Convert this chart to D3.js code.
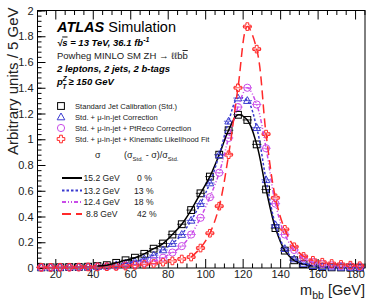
<!DOCTYPE html>
<html>
<head>
<meta charset="utf-8">
<script src="https://cdn.jsdelivr.net/npm/d3@7"></script>
<style>
  body { margin: 0; background: #fff; }
  svg { display: block; font-family: "Liberation Sans", Arial, sans-serif; }
  .axis text { font-size: 11px; fill: #222; }
  .axis path { display: none; }
  .axis line { stroke: #000; }
</style>
</head>
<body>
<svg id="chart"></svg>
<script>
// bin centres of m_bb [GeV], 5 GeV bins
const binCenters = [12.5, 17.5, 22.5, 27.5, 32.5, 37.5, 42.5, 47.5, 52.5, 57.5, 62.5, 67.5,
  72.5, 77.5, 82.5, 87.5, 92.5, 97.5, 102.5, 107.5, 112.5, 117.5, 122.5, 127.5, 132.5,
  137.5, 142.5, 147.5, 152.5, 157.5, 162.5, 167.5, 172.5, 177.5, 182.5];

const stdValues = [0.005, 0.005, 0.006, 0.007, 0.008, 0.01, 0.015, 0.022, 0.04, 0.06, 0.08, 0.11,
  0.15, 0.19, 0.26, 0.34, 0.45, 0.58, 0.71, 0.88, 1.07, 1.19, 1.15, 0.96, 0.61,
  0.31, 0.135, 0.06, 0.03, 0.015, 0.008, 0.005, 0.004, 0.003, 0.003];

const muValues = [0.004, 0.004, 0.005, 0.006, 0.007, 0.008, 0.011, 0.015, 0.024, 0.035, 0.05, 0.07,
  0.1, 0.14, 0.19, 0.26, 0.37, 0.5, 0.66, 0.88, 1.14, 1.32, 1.3, 1.09, 0.685,
  0.335, 0.15, 0.07, 0.035, 0.018, 0.01, 0.007, 0.005, 0.004, 0.004];

const ptRecoValues = [0.004, 0.004, 0.005, 0.005, 0.006, 0.007, 0.008, 0.01, 0.013, 0.02, 0.028, 0.04,
  0.055, 0.08, 0.12, 0.17, 0.26, 0.39, 0.55, 0.74, 1.01, 1.25, 1.4, 1.27, 0.93,
  0.5, 0.26, 0.14, 0.075, 0.045, 0.03, 0.02, 0.015, 0.012, 0.01];

const kinFitValues = [0.005, 0.005, 0.006, 0.006, 0.007, 0.008, 0.009, 0.01, 0.012, 0.015, 0.02, 0.028,
  0.035, 0.045, 0.055, 0.07, 0.085, 0.155, 0.27, 0.48, 0.88, 1.4, 1.875, 1.7, 1.04,
  0.545, 0.3, 0.165, 0.09, 0.06, 0.045, 0.035, 0.028, 0.022, 0.018];

const seriesNames = ["Standard Jet Calibration (Std.)", "Std. + \u03bc-in-jet Correction",
  "Std. + \u03bc-in-jet + PtReco Correction", "Std. + \u03bc-in-jet + Kinematic Likelihood Fit"];
const seriesColors = ["#000000", "#3a3ad0", "#c94be8", "#ff2a2a"];
const seriesMarkers = ["square", "triangle", "circle", "cross"];
const seriesDash = [null, "2.5,2", "4,2,1,2,1,2", "9,5"];
// fit ranges of the curves [GeV]
const fitLow = [42, 55, 70, 88];
const fitHigh = [160, 160, 165, 158];
const sigmaLabels = ["15.2 GeV", "13.2 GeV", "12.4 GeV", "8.8 GeV"];
const improvementLabels = ["0 %", "13 %", "18 %", "42 %"];

const xMajorTicks = [20, 40, 60, 80, 100, 120, 140, 160, 180];
const yMajorTicks = [0, 0.2, 0.4, 0.6, 0.8, 1, 1.2, 1.4, 1.6, 1.8, 2];

const W = 370, H = 301;
const margin = {top: 10.5, right: 5, bottom: 33, left: 37.5};

const svg = d3.select("#chart").attr("width", W).attr("height", H);

const x = d3.scaleLinear().domain([10.5, 185.3]).range([margin.left, W - margin.right]);
const y = d3.scaleLinear().domain([0, 2]).range([H - margin.bottom, margin.top]);

const allSeries = [stdValues, muValues, ptRecoValues, kinFitValues].map((vals, i) => ({
  name: seriesNames[i], color: seriesColors[i], marker: seriesMarkers[i], dash: seriesDash[i],
  lo: fitLow[i], hi: fitHigh[i],
  points: binCenters.map((c, j) => ({x: c, y: vals[j]}))
}));

// ---- axes (ticks pointing inwards) ----
const xMinor = [];
for (let v = 15; v <= 185; v += 5) if (v % 20 !== 0) xMinor.push(v);
const yMinor = [];
for (let v = 0; v <= 2.0001; v += 0.04) yMinor.push(+v.toFixed(2));

svg.append("g").attr("class", "axis")
  .attr("transform", `translate(0,${y(0)})`)
  .call(d3.axisBottom(x).tickValues(xMajorTicks).tickSize(-9).tickPadding(2).tickFormat(d3.format("d")));
svg.append("g").attr("class", "axis")
  .attr("transform", `translate(0,${y(0)})`)
  .call(d3.axisBottom(x).tickValues(xMinor).tickSize(-4.5).tickFormat(""));
svg.append("g").attr("class", "axis")
  .attr("transform", `translate(0,${y(2)})`)
  .call(d3.axisTop(x).tickValues(xMajorTicks).tickSize(-9).tickFormat(""));
svg.append("g").attr("class", "axis")
  .attr("transform", `translate(0,${y(2)})`)
  .call(d3.axisTop(x).tickValues(xMinor).tickSize(-4.5).tickFormat(""));

svg.append("g").attr("class", "axis")
  .attr("transform", `translate(${x.range()[0]},0)`)
  .call(d3.axisLeft(y).tickValues(yMajorTicks).tickSize(-8).tickPadding(4).tickFormat(d3.format("~g")));
svg.append("g").attr("class", "axis")
  .attr("transform", `translate(${x.range()[0]},0)`)
  .call(d3.axisLeft(y).tickValues(yMinor).tickSize(-4).tickFormat(""));

// frame
svg.append("rect")
  .attr("x", x.range()[0]).attr("y", y(2))
  .attr("width", x.range()[1] - x.range()[0]).attr("height", y(0) - y(2))
  .attr("fill", "none").attr("stroke", "#000").attr("stroke-width", 1);

// ---- marker shapes ----
function drawMarker(g, type, color, cx, cy) {
  const s = 3.4;
  if (type === "square") {
    g.append("rect").attr("x", cx - s).attr("y", cy - s).attr("width", 2 * s).attr("height", 2 * s)
      .attr("fill", "none").attr("stroke", color).attr("stroke-width", 1);
  } else if (type === "triangle") {
    g.append("path").attr("d", `M${cx},${cy - 4}L${cx + 3.8},${cy + 2.8}L${cx - 3.8},${cy + 2.8}Z`)
      .attr("fill", "none").attr("stroke", color).attr("stroke-width", 1);
  } else if (type === "circle") {
    g.append("circle").attr("cx", cx).attr("cy", cy).attr("r", 3.6)
      .attr("fill", "none").attr("stroke", color).attr("stroke-width", 1);
  } else {
    const a = 1.4, b = 3.8;
    g.append("path").attr("d",
      `M${cx - a},${cy - b}H${cx + a}V${cy - a}H${cx + b}V${cy + a}H${cx + a}V${cy + b}H${cx - a}V${cy + a}H${cx - b}V${cy - a}H${cx - a}Z`)
      .attr("fill", "none").attr("stroke", color).attr("stroke-width", 1);
  }
}

const plot = svg.append("g");

// markers with horizontal bin-width error bars
allSeries.forEach(s => {
  const g = plot.append("g");
  s.points.forEach(p => {
    g.append("line")
      .attr("x1", x(p.x - 2.5)).attr("x2", x(p.x + 2.5))
      .attr("y1", y(p.y)).attr("y2", y(p.y))
      .attr("stroke", s.color).attr("stroke-width", 0.8);
    drawMarker(g, s.marker, s.color, x(p.x), y(p.y));
  });
});

// fit curves
const line = d3.line().x(d => x(d.x)).y(d => y(d.y)).curve(d3.curveCatmullRom.alpha(0.5));
allSeries.forEach(s => {
  plot.append("path")
    .datum(s.points.filter(p => p.x >= s.lo && p.x <= s.hi))
    .attr("d", line)
    .attr("fill", "none")
    .attr("stroke", s.color)
    .attr("stroke-width", 1.5)
    .attr("stroke-dasharray", s.dash);
});

// ---- axis titles ----
svg.append("text")
  .attr("transform", `translate(18,${y(2) - 3}) rotate(-90)`)
  .attr("text-anchor", "end")
  .attr("font-size", 15)
  .attr("fill", "#222")
  .text("Arbitrary units / 5 GeV");

const xt = svg.append("text")
  .attr("x", W - 5).attr("y", 295)
  .attr("text-anchor", "end")
  .attr("font-size", 14.5)
  .attr("fill", "#222");
xt.append("tspan").text("m");
xt.append("tspan").attr("dy", 4).attr("font-size", 10.5).text("bb");
xt.append("tspan").attr("dy", -4).text(" [GeV]");

// ---- labels ----
const tx = 57;
const atlas = svg.append("text").attr("x", tx).attr("y", 32).attr("font-size", 14.5).attr("fill", "#000");
atlas.append("tspan").attr("font-weight", "bold").attr("font-style", "italic").text("ATLAS");
atlas.append("tspan").text(" Simulation");

const sq = svg.append("text").attr("x", tx).attr("y", 45.5).attr("font-size", 9.5)
  .attr("font-weight", "bold").attr("font-style", "italic");
sq.append("tspan").text("\u221a");
sq.append("tspan").attr("text-decoration", "overline").text("s");
sq.append("tspan").text(" = 13 TeV, 36.1 fb");
sq.append("tspan").attr("dy", -4).attr("font-size", 7).text("-1");

const pw = svg.append("text").attr("x", tx).attr("y", 59).attr("font-size", 9.5).attr("fill", "#222");
pw.append("tspan").text("Powheg MINLO SM ZH \u2192 \u2113\u2113b");
pw.append("tspan").attr("text-decoration", "overline").text("b");

svg.append("text").attr("x", tx).attr("y", 72).attr("font-size", 9.5)
  .attr("font-weight", "bold").attr("font-style", "italic")
  .text("2 leptons, 2 jets, 2 b-tags");

const pt = svg.append("text").attr("x", tx).attr("y", 85).attr("font-size", 9.5)
  .attr("font-weight", "bold").attr("font-style", "italic");
pt.append("tspan").text("p");
pt.append("tspan").attr("dy", -4).attr("font-size", 6.5).text("Z");
pt.append("tspan").attr("x", tx + 5.5).attr("dy", 7.5).attr("font-size", 6.5).text("T");
pt.append("tspan").attr("dy", -3.5).attr("dx", 2).text("\u2265 150 GeV");

// ---- legend of markers ----
const legY = [106, 117, 128, 139];
allSeries.forEach((s, i) => {
  drawMarker(svg, s.marker, s.color, 61, legY[i]);
  svg.append("text").attr("x", 75).attr("y", legY[i] + 2.7)
    .attr("font-size", 7.6).attr("fill", "#222").text(s.name);
});

// ---- resolution table ----
svg.append("text").attr("x", 95).attr("y", 158).attr("font-size", 9).attr("fill", "#222").text("\u03c3");
const hd = svg.append("text").attr("x", 124).attr("y", 158).attr("font-size", 9).attr("fill", "#222");
hd.append("tspan").text("(\u03c3");
hd.append("tspan").attr("dy", 3).attr("font-size", 6).text("Std.");
hd.append("tspan").attr("dy", -3).text(" - \u03c3)/\u03c3");
hd.append("tspan").attr("dy", 3).attr("font-size", 6).text("Std.");

const rowY = [178, 190.5, 202, 214];
const pctX = [137, 134, 134, 137];
allSeries.forEach((s, i) => {
  svg.append("line")
    .attr("x1", 62).attr("x2", 82).attr("y1", rowY[i]).attr("y2", rowY[i])
    .attr("stroke", s.color).attr("stroke-width", 2)
    .attr("stroke-dasharray", s.dash);
  svg.append("text").attr("x", i === 3 ? 86 : 83.5).attr("y", rowY[i] + 3)
    .attr("font-size", 8.6).attr("fill", "#222").text(sigmaLabels[i]);
  svg.append("text").attr("x", pctX[i]).attr("y", rowY[i] + 3)
    .attr("font-size", 8.6).attr("fill", "#222").text(improvementLabels[i]);
});
</script>
</body>
</html>
